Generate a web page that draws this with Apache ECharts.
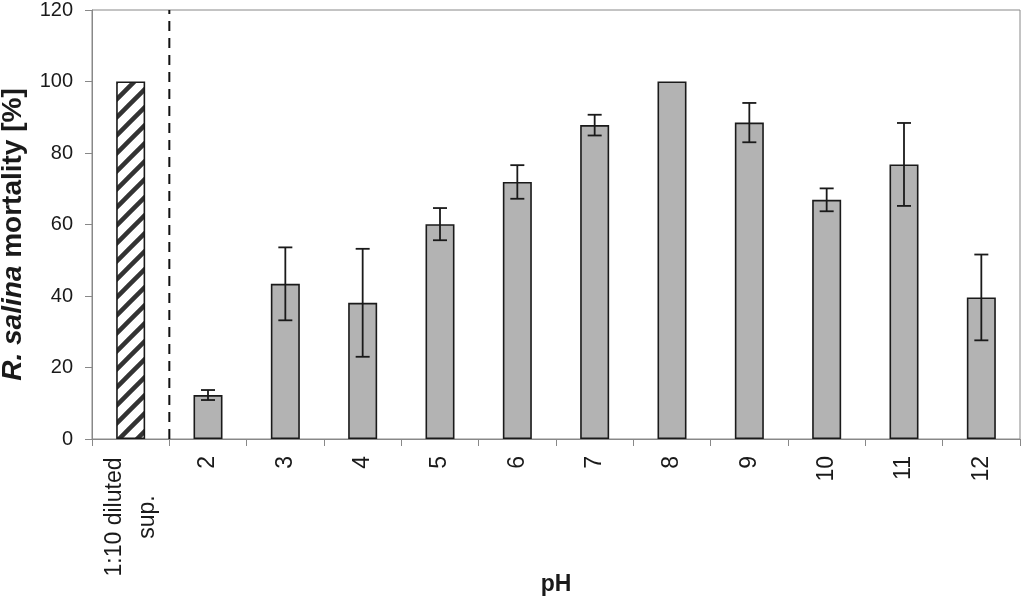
<!DOCTYPE html>
<html>
<head>
<meta charset="utf-8">
<script src="https://cdn.jsdelivr.net/npm/echarts@6/dist/echarts.min.js"></script>
<style>html,body{margin:0;padding:0;background:#fff}#c{width:1024px;height:597px}</style>
</head>
<body>
<div id="c"></div>
<script>
var categories = ['1:10 diluted\nsup.', '2', '3', '4', '5', '6', '7', '8', '9', '10', '11', '12'];
var mortality = [100, 12.3, 43.4, 38.1, 60.1, 71.9, 87.8, 100, 88.5, 66.9, 76.8, 39.6];
var errors = [0, 1.4, 10.2, 15.1, 4.5, 4.7, 2.9, 0, 5.5, 3.2, 11.6, 12.0];
var yTicks = [0, 20, 40, 60, 80, 100, 120];

// hatch pattern
var tile = document.createElement('canvas');
tile.width = 18; tile.height = 18;
var g = tile.getContext('2d');
g.fillStyle = '#fff'; g.fillRect(0, 0, 18, 18);
g.strokeStyle = '#333'; g.lineWidth = 4.5;
g.beginPath();
g.moveTo(-4.5, 22.5); g.lineTo(22.5, -4.5);
g.moveTo(-22.5, 22.5); g.lineTo(4.5, -4.5);
g.moveTo(13.5, 22.5); g.lineTo(40.5, -4.5);
g.stroke();

var barData = mortality.map(function (v, i) {
  var d = { value: v };
  if (i === 0) d.itemStyle = { color: { image: tile, repeat: 'repeat' } };
  return d;
});
var errData = mortality.map(function (v, i) { return [i, v - errors[i], v + errors[i]]; })
  .filter(function (d, i) { return errors[i] > 0; });

var chart = echarts.init(document.getElementById('c'));
chart.setOption({
  animation: false,
  textStyle: { fontFamily: 'Liberation Sans, Arial, sans-serif' },
  grid: { left: 92, right: 4, top: 10, bottom: 158, show: true, borderColor: '#888', borderWidth: 1,
          containLabel: false, outerBoundsMode: 'none' },
  xAxis: [{
    type: 'category',
    data: categories,
    name: 'pH',
    nameLocation: 'middle',
    nameGap: 134,
    nameMoveOverlap: false,
    nameTextStyle: { fontSize: 23, fontWeight: 'bold', color: '#1a1a1a' },
    axisLine: { lineStyle: { color: '#888', width: 1 } },
    axisTick: { show: true, length: 7, inside: false, lineStyle: { color: '#888' } },
    axisLabel: {
      rotate: 90, margin: 17, fontSize: 23, color: '#1a1a1a', interval: 0,
      formatter: function (v, i) {
        if (i === 0) return '{a|1:10 diluted}\n{a|sup.}';
        return v;
      },
      rich: { a: { fontSize: 23, width: 122, align: 'center', lineHeight: 33, color: '#1a1a1a' } }
    }
  }, {
    type: 'value', min: 0, max: 12, show: false
  }],
  yAxis: {
    type: 'value', min: 0, max: 120, interval: 20,
    name: '{i|R. salina} mortality [%]',
    nameLocation: 'middle',
    nameGap: 65,
    nameRotate: 90,
    nameMoveOverlap: false,
    nameTextStyle: {
      fontSize: 28, fontWeight: 'bold', color: '#1a1a1a', padding: [0, 20, 0, 0],
      rich: { i: { fontSize: 28, fontWeight: 'bold', fontStyle: 'italic', color: '#1a1a1a' } }
    },
    axisLine: { show: true, lineStyle: { color: '#888', width: 1 } },
    axisTick: { show: true, length: 7, lineStyle: { color: '#888' } },
    splitLine: { show: false },
    axisLabel: {
      fontSize: 20, color: '#1a1a1a', margin: 19,
      formatter: function (v) { return yTicks.indexOf(v) >= 0 ? String(v) : ''; }
    }
  },
  series: [{
    type: 'bar',
    data: barData,
    barWidth: 29,
    itemStyle: { color: '#b3b3b3', borderColor: '#1a1a1a', borderWidth: 1.6 }
  }, {
    type: 'custom',
    data: errData,
    z: 5,
    renderItem: function (params, api) {
      var x = api.value(0);
      var lo = api.coord([x, api.value(1)]);
      var hi = api.coord([x, api.value(2)]);
      var w = 7;
      var st = { stroke: '#1a1a1a', lineWidth: 1.8 };
      return { type: 'group', children: [
        { type: 'line', shape: { x1: lo[0], y1: lo[1], x2: hi[0], y2: hi[1] }, style: st },
        { type: 'line', shape: { x1: lo[0] - w, y1: lo[1], x2: lo[0] + w, y2: lo[1] }, style: st },
        { type: 'line', shape: { x1: hi[0] - w, y1: hi[1], x2: hi[0] + w, y2: hi[1] }, style: st }
      ] };
    }
  }, {
    type: 'line',
    xAxisIndex: 1,
    data: [[1, 0], [1, 120]],
    symbol: 'none',
    lineStyle: { color: '#111', width: 2, type: [10, 7] },
    z: 1
  }]
});
</script>
</body>
</html>
